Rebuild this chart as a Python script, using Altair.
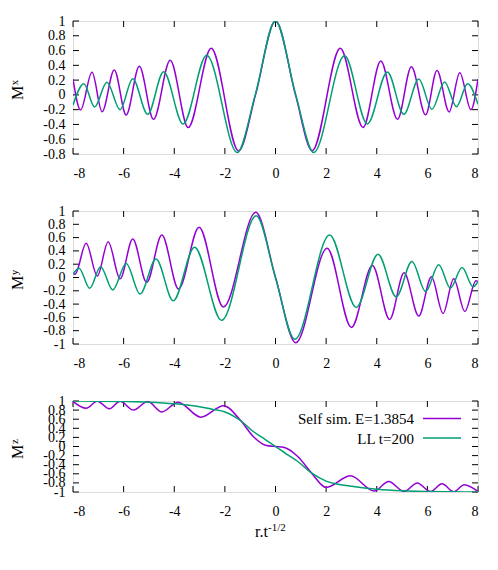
import altair as alt
import pandas as pd

# ---------------- data ----------------
X_TICKS = [-8, -6, -4, -2, 0, 2, 4, 6, 8]
Y1_TICKS = [-0.8, -0.6, -0.4, -0.2, 0, 0.2, 0.4, 0.6, 0.8, 1]
Y_TICKS = [-1, -0.8, -0.6, -0.4, -0.2, 0, 0.2, 0.4, 0.6, 0.8, 1]

# Mx, self-similar solution (purple)
MX_SELF_X = [-8, -7.70, -7.25, -6.85, -6.37, -5.90, -5.38, -4.82, -4.16, -3.45, -2.54, -1.46, -0.79, 0,
             0.79, 1.45, 2.56, 3.46, 4.16, 4.82, 5.37, 5.93, 6.38, 6.86, 7.28, 7.72, 8]
MX_SELF_Y = [0.215, -0.204, 0.305, -0.227, 0.337, -0.272, 0.387, -0.331, 0.468, -0.443, 0.63, -0.758, 0.0, 1.0,
             0.0, -0.755, 0.63, -0.44, 0.459, -0.33, 0.38, -0.27, 0.33, -0.23, 0.30, -0.2, 0.215]
# Mx, LL t=200 (green)
MX_LL_X = [-8, -7.57, -7.15, -6.66, -6.14, -5.64, -5.05, -4.42, -3.65, -2.72, -1.51, -0.8, 0,
           0.8, 1.51, 2.73, 3.63, 4.42, 5.07, 5.66, 6.18, 6.68, 7.15, 7.59, 8]
MX_LL_Y = [-0.137, 0.152, -0.164, 0.17, -0.20, 0.22, -0.263, 0.314, -0.394, 0.535, -0.78, 0.0, 1.0,
           0.0, -0.78, 0.53, -0.394, 0.31, -0.263, 0.215, -0.195, 0.175, -0.16, 0.15, -0.128]

# My, self-similar (purple)
MY_SELF_X = [-8, -7.92, -7.48, -7.04, -6.61, -6.14, -5.64, -5.09, -4.49, -3.83, -3.02, -2.06, -0.78, 0,
             0.80, 2.04, 3.0, 3.83, 4.51, 5.08, 5.66, 6.16, 6.62, 7.04, 7.48, 7.92, 8]
MY_SELF_Y = [0.06, 0.05, 0.514, 0.023, 0.539, -0.02, 0.58, -0.073, 0.64, -0.173, 0.754, -0.444, 0.98, 0.0,
             -0.98, 0.44, -0.75, 0.18, -0.63, 0.07, -0.58, 0.01, -0.54, -0.02, -0.51, -0.05, -0.06]
# My, LL (green)
MY_LL_X = [-8, -7.76, -7.34, -6.91, -6.43, -5.90, -5.35, -4.72, -4.04, -3.20, -2.13, -0.76, 0,
           0.76, 2.14, 3.19, 4.05, 4.77, 5.39, 5.93, 6.45, 6.91, 7.37, 7.81, 8]
MY_LL_Y = [0.05, 0.14, -0.163, 0.163, -0.188, 0.21, -0.248, 0.278, -0.35, 0.454, -0.644, 0.93, 0.0,
           -0.93, 0.64, -0.45, 0.35, -0.29, 0.24, -0.21, 0.19, -0.16, 0.15, -0.14, -0.06]

# Mz, self-similar (purple)
MZ_SELF_X = [-8, -7.48, -7.04, -6.56, -6.14, -5.61, -5.05, -4.49, -3.85, -2.95, -2.05, -1.37, -0.88, -0.35, 0,
             0.35, 0.88, 1.42, 2.0, 2.96, 3.9, 4.47, 5.08, 5.6, 6.12, 6.58, 7.04, 7.46, 8]
MZ_SELF_Y = [0.99, 0.84, 0.995, 0.83, 0.995, 0.80, 0.99, 0.76, 0.975, 0.645, 0.895, 0.566, 0.22, 0.02, 0.0,
             -0.02, -0.22, -0.58, -0.9, -0.645, -0.98, -0.77, -0.99, -0.80, -0.99, -0.82, -0.995, -0.84, -0.99]
# Mz, LL (green)
MZ_LL_X = [-8, -7, -6, -5, -4, -3, -2.47, -2, -1.37, -0.88, -0.5, 0,
           0.5, 0.88, 1.42, 2, 2.47, 3, 4, 5, 6, 7, 8]
MZ_LL_Y = [1.0, 0.997, 0.99, 0.975, 0.94, 0.875, 0.815, 0.76, 0.566, 0.33, 0.19, 0.0,
           -0.19, -0.33, -0.58, -0.76, -0.83, -0.875, -0.94, -0.975, -0.99, -0.997, -1.0]

LEGEND_LABELS = ["Self sim. E=1.3854", "LL t=200"]

# ---------------- styling ----------------
PURPLE = "#9400d3"
GREEN = "#009e73"
FONT = "Liberation Serif"
W = 405
TICK = 6


def panel(sx, sy, lx, ly, ydom, yticks, H, sup, legend=False, xtitle=False):
    xs = alt.Scale(domain=[-8, 8], nice=False, zero=False)
    ys = alt.Scale(domain=ydom, nice=False, zero=False)
    xax = alt.Axis(values=X_TICKS, ticks=False, domain=False, grid=False, title=None,
                   labelFont=FONT, labelFontSize=14, labelColor="black", labelPadding=12,
                   labelExpr="'' + datum.value", labelOverlap=False, labelBaseline="top")
    yax = alt.Axis(values=yticks, ticks=False, domain=False, grid=False, title=None,
                   labelFont=FONT, labelFontSize=14, labelColor="black", labelPadding=8,
                   labelExpr="'' + datum.value", labelOverlap=False, labelBound=False)
    X = alt.X("x:Q", scale=xs, axis=xax)
    Y = alt.Y("y:Q", scale=ys, axis=yax)

    d_self = pd.DataFrame({"x": sx, "y": sy})
    d_ll = pd.DataFrame({"x": lx, "y": ly})
    l_self = alt.Chart(d_self).mark_line(color=PURPLE, strokeWidth=1.5, interpolate="monotone",
                                         clip=True).encode(x=X, y=Y)
    l_ll = alt.Chart(d_ll).mark_line(color=GREEN, strokeWidth=1.5, interpolate="monotone",
                                     clip=True).encode(x=X, y=Y)

    dxt = pd.DataFrame({"x": X_TICKS})
    dyt = pd.DataFrame({"y": yticks})
    t_top = alt.Chart(dxt).mark_rule(color="black", strokeWidth=1).encode(
        x=X, y=alt.value(0), y2=alt.value(TICK))
    t_bot = alt.Chart(dxt).mark_rule(color="black", strokeWidth=1).encode(
        x=X, y=alt.value(H), y2=alt.value(H - TICK))
    t_left = alt.Chart(dyt).mark_rule(color="black", strokeWidth=1).encode(
        y=Y, x=alt.value(0), x2=alt.value(TICK))
    t_right = alt.Chart(dyt).mark_rule(color="black", strokeWidth=1).encode(
        y=Y, x=alt.value(W), x2=alt.value(W - TICK))

    ttl_m = alt.Chart(pd.DataFrame({"t": ["M"]})).mark_text(
        font=FONT, fontSize=16, angle=270, align="center", baseline="middle", color="black"
    ).encode(x=alt.value(-55), y=alt.value(H / 2 + 5.5), text="t:N")
    ttl_s = alt.Chart(pd.DataFrame({"t": [sup]})).mark_text(
        font=FONT, fontSize=11, angle=270, align="center", baseline="middle", color="black"
    ).encode(x=alt.value(-58.5), y=alt.value(H / 2 - 5), text="t:N")

    layers = [t_top, t_bot, t_left, t_right, l_self, l_ll, ttl_m, ttl_s]

    if legend:
        for i, (lab, col) in enumerate(zip(LEGEND_LABELS, [PURPLE, GREEN])):
            txt = alt.Chart(pd.DataFrame({"t": [lab]})).mark_text(
                font=FONT, fontSize=15, align="right", baseline="alphabetic", color="black"
            ).encode(x=alt.value(341), y=alt.value(23 + 19.5 * i), text="t:N")
            smp = alt.Chart(pd.DataFrame({"t": [lab]})).mark_rule(color=col, strokeWidth=1.5).encode(
                x=alt.value(350), x2=alt.value(388), y=alt.value(17.5 + 19.5 * i))
            layers += [txt, smp]

    if xtitle:
        xt1 = alt.Chart(pd.DataFrame({"t": ["r.t"]})).mark_text(
            font=FONT, fontSize=16, align="right", baseline="alphabetic", color="black"
        ).encode(x=alt.value(195), y=alt.value(136), text="t:N")
        xt2 = alt.Chart(pd.DataFrame({"t": ["-1/2"]})).mark_text(
            font=FONT, fontSize=11, align="left", baseline="alphabetic", color="black"
        ).encode(x=alt.value(195), y=alt.value(130), text="t:N")
        layers += [xt1, xt2]

    return alt.layer(*layers).properties(width=W, height=H)


p1 = panel(MX_SELF_X, MX_SELF_Y, MX_LL_X, MX_LL_Y, [-0.8, 1], Y1_TICKS, 133, "x")
p2 = panel(MY_SELF_X, MY_SELF_Y, MY_LL_X, MY_LL_Y, [-1, 1], Y_TICKS, 133, "y")
p3 = panel(MZ_SELF_X, MZ_SELF_Y, MZ_LL_X, MZ_LL_Y, [-1, 1], Y_TICKS, 91, "z",
           legend=True, xtitle=True)

chart = alt.vconcat(p1, p2, p3, spacing=57, bounds="flush").properties(
    padding={"left": 0, "top": 5, "right": 5, "bottom": 5}
).configure_view(
    stroke="black", strokeWidth=1
).configure_axis(
    labelFont=FONT, labelFontSize=14, labelColor="black"
).configure_text(
    font=FONT
).configure(background="white")

chart.save("out.html", embed_options={"renderer": "svg", "actions": False})
